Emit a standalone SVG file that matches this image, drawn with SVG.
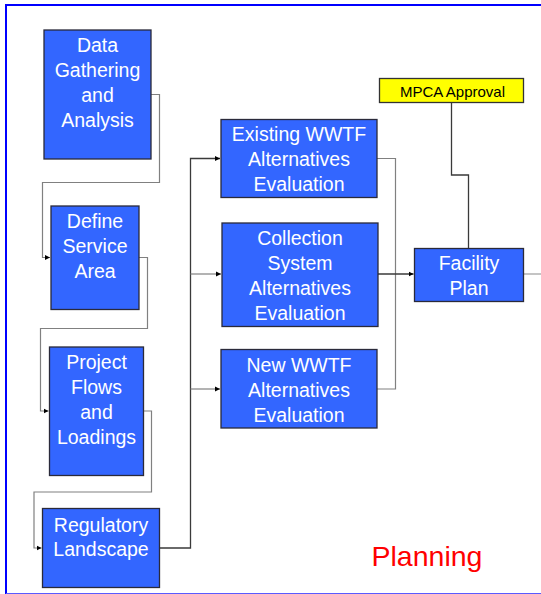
<svg xmlns="http://www.w3.org/2000/svg" width="541" height="594" viewBox="0 0 541 594">
<defs>
<style>
.box{fill:#3366FF;stroke:#2a2a3a;stroke-width:1.3}
.lbl{font-family:"Liberation Sans",Arial,sans-serif;font-size:19.5px;fill:#FFFFFF;text-anchor:middle}
.yel{fill:#FFFF00;stroke:#333333;stroke-width:1.3}
.ylbl{font-family:"Liberation Sans",Arial,sans-serif;font-size:15px;fill:#000000;text-anchor:middle}
.c{fill:none;stroke:#808080;stroke-width:1.2}
.cd{fill:none;stroke:#3a3a3a;stroke-width:1.3}
.cl{fill:none;stroke:#b0b0b0;stroke-width:1.5}
</style>
<marker id="ah" markerWidth="6" markerHeight="6" refX="5" refY="3" orient="auto" markerUnits="userSpaceOnUse">
<path d="M0,0.5 L5,3 L0,5.5 Z" fill="#000000"/>
</marker>
</defs>
<rect width="541" height="594" fill="#FFFFFF"/>
<g id="frame">
<path d="M6,594 L6,5 L541,5" fill="none" stroke="#0000FF" stroke-width="2"/>
<line x1="6" y1="593.5" x2="541" y2="593.5" stroke="#5a5aff" stroke-width="1"/>
</g>
<g id="connectors">
<path class="c" d="M151,94.5 H159.5 V182.5 H42.5 V257.5 H50" marker-end="url(#ah)"/>
<path class="c" d="M139,257.5 H147.5 V328.5 H40.5 V411 H48.5" marker-end="url(#ah)"/>
<path class="c" d="M143.5,411 H151.5 V492 H34 V548 H41.5" marker-end="url(#ah)"/>
<path class="cd" d="M159.5,548 H190.5 V158.5 H220" marker-end="url(#ah)"/>
<path class="c" d="M190.5,274 H221" marker-end="url(#ah)"/>
<path class="c" d="M190.5,389 H220" marker-end="url(#ah)"/>
<path class="c" d="M377,158.5 H395.5 V389 H377"/>
<path class="cd" d="M378,274 H413.5" marker-end="url(#ah)"/>
<path class="cd" d="M451.5,102.5 V175 H468.5 V248"/>
<path class="cl" d="M523.5,274 H541"/>
</g>
<g id="data-gathering">
<rect class="box" x="44" y="30" width="107" height="129"/>
<text class="lbl" x="97.5" y="52">Data</text>
<text class="lbl" x="97.5" y="77">Gathering</text>
<text class="lbl" x="97.5" y="102">and</text>
<text class="lbl" x="97.5" y="127">Analysis</text>
</g>
<g id="define-service-area">
<rect class="box" x="51" y="206" width="88" height="103.5"/>
<text class="lbl" x="95" y="228">Define</text>
<text class="lbl" x="95" y="253">Service</text>
<text class="lbl" x="95" y="278">Area</text>
</g>
<g id="project-flows">
<rect class="box" x="49.5" y="347" width="94" height="128.5"/>
<text class="lbl" x="96.5" y="369">Project</text>
<text class="lbl" x="96.5" y="394">Flows</text>
<text class="lbl" x="96.5" y="419">and</text>
<text class="lbl" x="96.5" y="444">Loadings</text>
</g>
<g id="regulatory-landscape">
<rect class="box" x="42.5" y="508.5" width="117" height="79"/>
<text class="lbl" x="101" y="532">Regulatory</text>
<text class="lbl" x="101" y="556">Landscape</text>
</g>
<g id="existing-wwtf">
<rect class="box" x="221" y="119.5" width="156" height="78"/>
<text class="lbl" x="299" y="141">Existing WWTF</text>
<text class="lbl" x="299" y="166">Alternatives</text>
<text class="lbl" x="299" y="191">Evaluation</text>
</g>
<g id="collection-system">
<rect class="box" x="222" y="223" width="156" height="103.5"/>
<text class="lbl" x="300" y="245">Collection</text>
<text class="lbl" x="300" y="270">System</text>
<text class="lbl" x="300" y="295">Alternatives</text>
<text class="lbl" x="300" y="320">Evaluation</text>
</g>
<g id="new-wwtf">
<rect class="box" x="221" y="349.5" width="156" height="78.5"/>
<text class="lbl" x="299" y="372">New WWTF</text>
<text class="lbl" x="299" y="397">Alternatives</text>
<text class="lbl" x="299" y="422">Evaluation</text>
</g>
<g id="facility-plan">
<rect class="box" x="414.5" y="248.5" width="109" height="53"/>
<text class="lbl" x="469" y="270">Facility</text>
<text class="lbl" x="469" y="295">Plan</text>
</g>
<g id="mpca-approval">
<rect class="yel" x="379.5" y="78.5" width="144" height="24"/>
<text class="ylbl" x="452.5" y="97">MPCA Approval</text>
</g>
<g id="planning-label">
<text x="427" y="566" font-family="&quot;Liberation Sans&quot;,Arial,sans-serif" font-size="28.5" fill="#FF0000" text-anchor="middle">Planning</text>
</g>
</svg>
